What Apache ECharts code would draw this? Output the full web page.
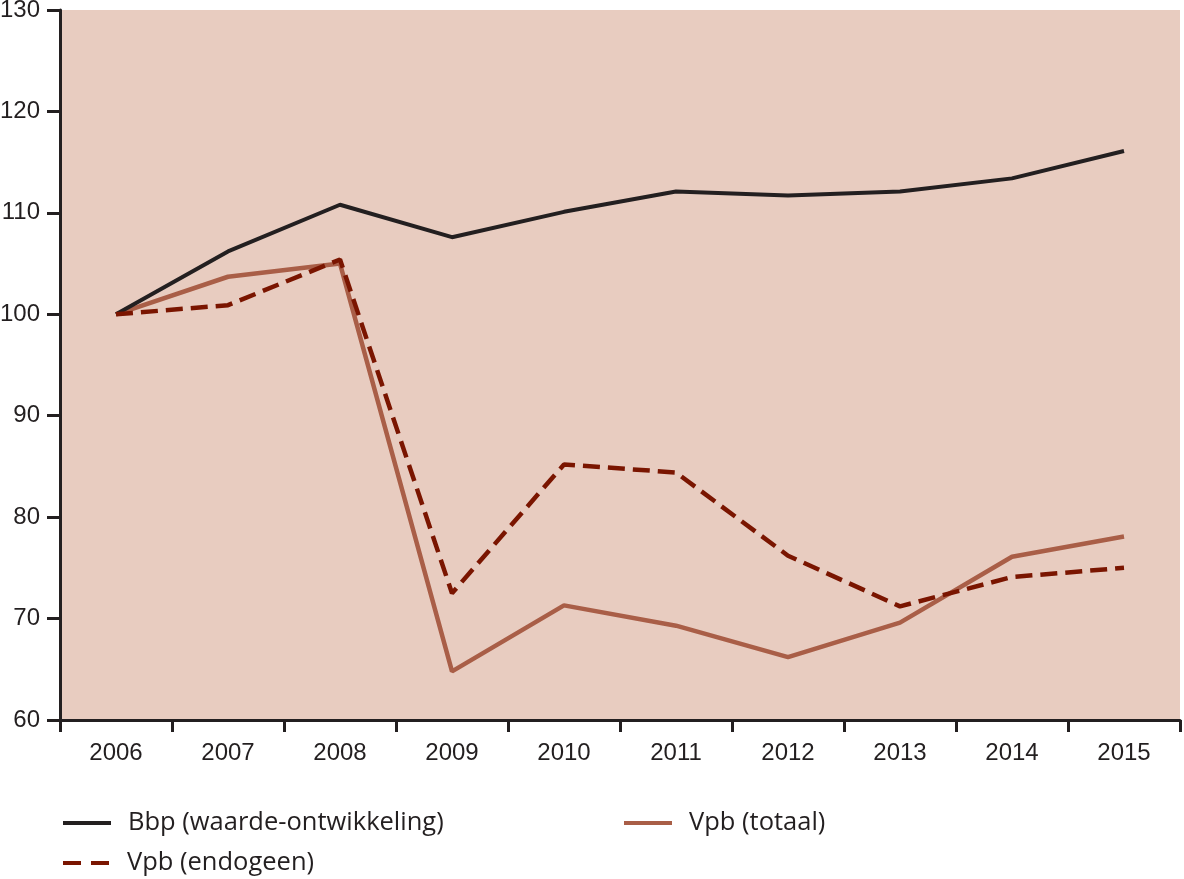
<!DOCTYPE html>
<html>
<head>
<meta charset="utf-8">
<script src="https://cdn.jsdelivr.net/npm/echarts@6/dist/echarts.min.js"></script>
<style>html,body{margin:0;padding:0;background:#fff;}#c{width:1184px;height:879px;}</style>
</head>
<body>
<div id="c"></div>
<script>
const years = ['2006','2007','2008','2009','2010','2011','2012','2013','2014','2015'];
const bbp = [100, 106.2, 110.8, 107.6, 110.1, 112.1, 111.7, 112.1, 113.4, 116.1];
const vpbTotaal = [100, 103.7, 105.0, 64.8, 71.3, 69.3, 66.2, 69.6, 76.1, 78.1];
const vpbEndogeen = [100, 100.9, 105.4, 72.5, 85.2, 84.4, 76.2, 71.2, 74.1, 75.0];
const names = ['Bbp (waarde-ontwikkeling)', 'Vpb (totaal)', 'Vpb (endogeen)'];

const FONT = 'Liberation Sans';
const TXT = '#231F20';
const solidIcon = 'path://M0,0 L48,0 L48,4 L0,4 Z';
const dashIcon = 'path://M0,0 L18,0 L18,4 L0,4 Z M28,0 L46,0 L46,4 L28,4 Z';
const legendText = {color: TXT, fontFamily: 'Open Sans', fontSize: 25.5, padding: [0,0,0,12]};

const chart = echarts.init(document.getElementById('c'), null, {renderer: 'canvas'});
chart.setOption({
  animation: false,
  backgroundColor: '#ffffff',
  grid: {left: 60, right: 4, top: 10, bottom: 159, show: true, backgroundColor: '#E8CCC0', borderWidth: 0,
         containLabel: false, outerBoundsMode: 'none'},
  legend: [
    {data: [{name: names[0], icon: solidIcon}], left: 58, top: 805, itemWidth: 48, itemHeight: 4, textStyle: legendText},
    {data: [{name: names[1], icon: solidIcon}], left: 619, top: 805, itemWidth: 48, itemHeight: 4, textStyle: legendText},
    {data: [{name: names[2], icon: dashIcon}], left: 58, top: 845, itemWidth: 48, itemHeight: 4, textStyle: legendText}
  ],
  xAxis: {
    type: 'category', data: years, boundaryGap: true,
    axisLine: {lineStyle: {color: TXT, width: 3}},
    axisTick: {show: true, length: 12, inside: false, lineStyle: {color: TXT, width: 3}, alignWithLabel: false},
    axisLabel: {color: TXT, fontFamily: FONT, fontSize: 24, margin: 21},
    splitLine: {show: false}
  },
  yAxis: {
    type: 'value', min: 60, max: 130, interval: 10,
    axisLine: {show: true, lineStyle: {color: TXT, width: 3}},
    axisTick: {show: true, length: 13, lineStyle: {color: TXT, width: 3}},
    axisLabel: {color: TXT, fontFamily: FONT, fontSize: 24, margin: 20},
    splitLine: {show: false}
  },
  series: [
    {name: names[0], type: 'line', data: bbp, symbol: 'none', color: '#231F20', lineStyle: {width: 4, color: '#231F20'}, z: 3},
    {name: names[1], type: 'line', data: vpbTotaal, symbol: 'none', color: '#A95E47', lineStyle: {width: 4.5, color: '#A95E47'}, z: 2},
    {name: names[2], type: 'line', data: vpbEndogeen, symbol: 'none', color: '#7A1500', lineStyle: {width: 4.5, color: '#7A1500', type: [17, 8]}, z: 4}
  ]
});
</script>
</body>
</html>
